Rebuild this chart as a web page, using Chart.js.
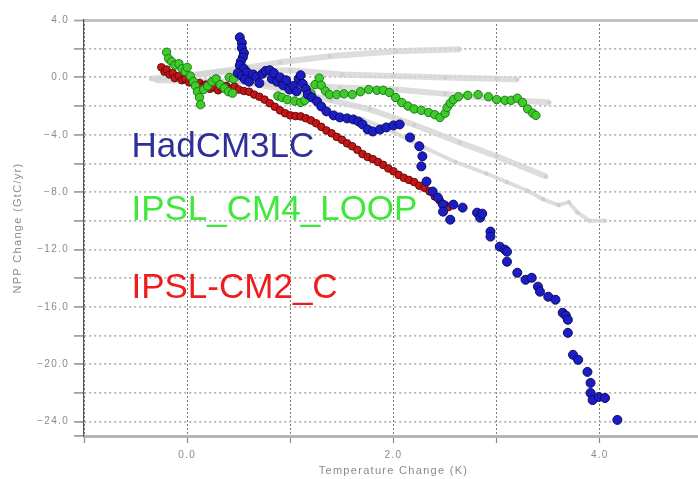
<!DOCTYPE html>
<html>
<head>
<meta charset="utf-8">
<script src="https://cdn.jsdelivr.net/npm/chart.js@4.4.1/dist/chart.umd.min.js"></script>
<style>
  html, body { margin: 0; padding: 0; background: #fff; overflow: hidden; }
  #wrap { width: 710px; height: 479px; }
</style>
</head>
<body>
<div id="wrap"><canvas id="myChart" width="710" height="479"></canvas></div>
<script>
// data: [temperature change (K), NPP change (GtC/yr)]
const hadcm3lc = [
  [0.51,2.79],[0.53,2.4],[0.53,2.05],[0.55,1.7],[0.54,1.4],[0.52,1.1],[0.51,0.84],[0.55,0.6],[0.49,0.3],
  [0.53,0.1],[0.58,0.35],[0.56,-0.14],[0.6,-0.3],[0.64,0.2],[0.67,0.05],[0.7,-0.4],[0.73,0.25],[0.76,0.45],
  [0.8,0.5],[0.82,-0.1],[0.84,0.3],[0.87,-0.3],[0.9,0.0],[0.93,-0.55],[0.96,-0.2],[0.99,-0.85],[1.03,-0.6],
  [1.06,-0.98],[1.08,-0.1],[1.1,0.15],[1.12,-0.45],[1.15,-0.8],[1.17,-1.2],[1.21,-1.4],[1.26,-1.68],[1.3,-2.03],
  [1.35,-2.37],[1.42,-2.65],[1.48,-2.79],[1.55,-2.86],[1.61,-2.93],[1.66,-3.07],[1.7,-3.28],[1.75,-3.63],
  [1.8,-3.77],[1.87,-3.63],[1.93,-3.49],[2.0,-3.35],[2.06,-3.28],[2.16,-4.19],[2.25,-4.8],[2.28,-5.5],[2.27,-6.2],
  [2.32,-7.26],[2.38,-7.96],[2.43,-8.38],[2.48,-8.87],[2.48,-9.36],[2.55,-9.92],[2.58,-8.87],[2.67,-9.08],
  [2.81,-9.43],[2.84,-9.78],[2.86,-9.5],[2.94,-10.75],[2.94,-11.1],[3.03,-11.8],[3.08,-12.01],[3.1,-12.15],
  [3.1,-12.85],[3.2,-13.62],[3.28,-14.11],[3.34,-13.97],[3.4,-14.59],[3.42,-14.94],[3.5,-15.29],[3.57,-15.5],
  [3.64,-16.41],[3.67,-16.6],[3.69,-16.9],[3.69,-17.81],[3.74,-19.34],[3.79,-19.69],[3.88,-20.53],[3.91,-21.3],
  [3.91,-22.0],[3.93,-22.49],[3.99,-22.28],[4.05,-22.35],[4.17,-23.88]
];
const ipslCm4Loop = [
  [-0.2,1.75],[-0.18,1.3],[-0.15,1.1],[-0.12,0.85],[-0.08,0.95],[-0.05,0.6],[-0.02,0.4],[0.0,0.7],[0.03,0.1],
  [0.06,-0.3],[0.08,-0.6],[0.1,-1.0],[0.12,-1.4],[0.13,-1.9],[0.16,-0.85],[0.2,-0.6],[0.24,-0.3],[0.28,-0.1],
  [0.32,-0.5],[0.36,-0.75],[0.4,-1.0],[0.44,-1.1],[0.41,0.0],[0.45,-0.1],[0.88,-1.3],[0.92,-1.4],[0.97,-1.55],
  [1.04,-1.65],[1.1,-1.75],[1.14,-1.6],[1.2,-1.1],[1.24,-0.5],[1.28,-0.05],[1.3,-0.55],[1.34,-0.95],[1.38,-1.2],
  [1.45,-1.2],[1.52,-1.15],[1.6,-1.2],[1.68,-1.0],[1.76,-0.85],[1.84,-0.9],[1.9,-0.9],[1.96,-1.05],[2.02,-1.4],
  [2.08,-1.75],[2.14,-2.0],[2.2,-2.2],[2.27,-2.3],[2.34,-2.45],[2.4,-2.6],[2.45,-2.8],[2.5,-2.5],[2.52,-2.1],
  [2.55,-1.8],[2.58,-1.55],[2.63,-1.35],[2.72,-1.25],[2.82,-1.2],[2.92,-1.35],[3.0,-1.55],[3.08,-1.6],
  [3.14,-1.6],[3.2,-1.45],[3.25,-1.75],[3.3,-2.2],[3.35,-2.5],[3.38,-2.65]
];
const ipslCm2C = [
  [-0.25,0.7],[-0.22,0.4],[-0.2,0.55],[-0.17,0.2],[-0.14,0.3],[-0.12,-0.05],[-0.08,0.1],[-0.05,-0.2],
  [-0.02,-0.1],[0.02,-0.35],[0.05,-0.25],[0.08,-0.5],[0.12,-0.4],[0.15,-0.65],[0.18,-0.5],[0.22,-0.8],
  [0.26,-0.7],[0.3,-0.9],[0.34,-0.75],[0.38,-0.6],[0.42,-0.8],[0.46,-0.65],[0.5,-0.85],[0.55,-0.95],[0.6,-1.0],
  [0.65,-1.2],[0.7,-1.35],[0.75,-1.55],[0.8,-1.8],[0.85,-2.05],[0.9,-2.3],[0.95,-2.5],[1.0,-2.65],[1.05,-2.7],
  [1.1,-2.72],[1.15,-2.85],[1.2,-3.0],[1.25,-3.2],[1.3,-3.45],[1.35,-3.7],[1.4,-3.9],[1.45,-4.15],[1.5,-4.35],
  [1.55,-4.6],[1.6,-4.8],[1.65,-5.05],[1.7,-5.35],[1.75,-5.55],[1.8,-5.7],[1.85,-5.9],[1.9,-6.1],[1.95,-6.35],
  [2.0,-6.55],[2.05,-6.8],[2.1,-7.0],[2.15,-7.15],[2.2,-7.3],[2.25,-7.55],[2.3,-7.7],[2.35,-7.95],[2.4,-8.3],
  [2.45,-8.6],[2.5,-8.9],[2.53,-9.05]
];
// other models (grey)
const greyA = [[-0.35,-0.1],[0.1,0.2],[0.6,0.7],[0.9,1.05],[1.38,1.47],[2.03,1.82],[2.64,1.96]];
const greyB = [[-0.25,0.0],[0.4,0.4],[1.0,0.5],[1.5,0.2],[2.0,0.1],[2.5,0.0],[3.0,-0.1],[3.2,-0.15]];
const greyC = [[-0.3,-0.2],[0.5,-0.3],[1.48,-0.7],[2.03,-0.84],[2.5,-1.15],[3.0,-1.5],[3.51,-1.75]];
const greyD = [[0.6,-0.4],[1.0,-0.9],[1.4,-1.6],[1.77,-2.23],[2.2,-3.3],[2.64,-4.54],[3.0,-5.5],[3.48,-6.91]];
const greyE = [[1.7,-2.9],[2.0,-3.8],[2.3,-4.9],[2.6,-5.9],[2.9,-6.7],[3.1,-7.3],[3.3,-7.9],[3.45,-8.5],
  [3.6,-8.9],[3.7,-8.7],[3.78,-9.4],[3.9,-10.0],[4.05,-10.0]];

const labelNames = ['HadCM3LC', 'IPSL_CM4_LOOP', 'IPSL-CM2_C'];

const toPts = arr => arr.map(p => ({x: p[0], y: p[1]}));

function greySet(arr, lw) {
    return {
        data: toPts(arr),
        showLine: true,
        borderColor: 'rgba(212,212,212,0.8)',
        borderWidth: lw,
        pointRadius: 2.2,
        pointBackgroundColor: '#d0d0d0',
        pointBorderWidth: 0,
        order: 10
    };
}

// big coloured model names, placed through the scales
const modelLabels = {
    id: 'modelLabels',
    beforeDraw(chart) {
        chart.ctx.letterSpacing = '1.3px';
    },
    afterDatasetsDraw(chart) {
        const {ctx, scales: {x, y}} = chart;
        const cols = ['#2e2f98', '#3fe83a', '#ee1c1c'];
        const base = [-5.52, -9.92, -15.36];
        ctx.save();
        ctx.letterSpacing = '0px';
        ctx.font = '35px "Liberation Sans", Arial, sans-serif';
        ctx.textBaseline = 'alphabetic';
        ctx.textAlign = 'left';
        labelNames.forEach((t, i) => {
            ctx.fillStyle = cols[i];
            ctx.fillText(t, x.getPixelForValue(-0.54), y.getPixelForValue(base[i]));
        });
        ctx.restore();
    }
};

const ctx = document.getElementById('myChart').getContext('2d');
const myChart = new Chart(ctx, {
    type: 'scatter',
    data: {
        datasets: [{
            label: 'HadCM3LC',
            data: toPts(hadcm3lc),
            pointRadius: 4.5,
            pointBackgroundColor: '#1d1dc8',
            pointBorderColor: '#0c0c5a',
            pointBorderWidth: 1,
            order: 1
        }, {
            label: 'IPSL_CM4_LOOP',
            data: toPts(ipslCm4Loop),
            pointRadius: 4.2,
            pointBackgroundColor: '#3fcc2a',
            pointBorderColor: '#1b7a18',
            pointBorderWidth: 1,
            order: 2
        }, {
            label: 'IPSL-CM2_C',
            data: toPts(ipslCm2C),
            pointRadius: 3.8,
            pointBackgroundColor: '#c81414',
            pointBorderColor: '#5e0c0c',
            pointBorderWidth: 1,
            order: 3
        },
        greySet(greyA, 6), greySet(greyB, 6), greySet(greyC, 6), greySet(greyD, 6), greySet(greyE, 4)
        ]
    },
    options: {
        responsive: false,
        animation: false,
        events: [],
        layout: { padding: { top: 20, right: 7, bottom: 0, left: 0 } },
        plugins: {
            legend: { display: false },
            tooltip: { enabled: false }
        },
        scales: {
            x: {
                type: 'linear',
                min: -1, max: 5,
                afterFit: s => { s.height = 43; },
                ticks: {
                    stepSize: 1,
                    padding: 6,
                    color: '#8a8a8a',
                    font: { family: '"Liberation Sans", Arial, sans-serif', size: 10 },
                    maxRotation: 0,
                    autoSkip: false,
                    callback: v => (v % 2 === 0 ? v.toFixed(1) : '')
                },
                grid: {
                    color: '#7a7a7a',
                    lineWidth: 1,
                    tickLength: 7,
                    tickColor: '#8a8a8a',
                    tickWidth: 1.2
                },
                border: { color: '#b5b5b5', width: 3, dash: [2, 2] },
                title: {
                    display: true,
                    text: 'Temperature Change (K)',
                    color: '#8a8a8a',
                    font: { family: '"Liberation Sans", Arial, sans-serif', size: 11 },
                    padding: { top: 0, bottom: 1 }
                }
            },
            y: {
                min: -25, max: 4,
                afterFit: s => { s.width = 84; },
                ticks: {
                    stepSize: 2,
                    padding: 5,
                    color: '#8a8a8a',
                    font: { family: '"Liberation Sans", Arial, sans-serif', size: 10 },
                    autoSkip: false,
                    callback: v => (v % 4 === 0 ? (v < 0 ? '\u2212' + Math.abs(v).toFixed(1) : v.toFixed(1)) : '')
                },
                grid: {
                    color: c => (c.tick && c.tick.value === 4 ? '#c2c2c2' : '#b4b4b4'),
                    lineWidth: c => (c.tick && c.tick.value === 4 ? 3 : 1.8),
                    tickLength: 10,
                    tickColor: '#a0a0a0',
                    tickWidth: 1.8
                },
                border: {
                    color: '#555',
                    width: 1.2,
                    dash: c => (c.tick && c.tick.value === 4 ? [] : [2, 3])
                },
                title: {
                    display: true,
                    text: 'NPP Change (GtC/yr)',
                    color: '#8a8a8a',
                    font: { family: '"Liberation Sans", Arial, sans-serif', size: 11 },
                    padding: { top: 11, bottom: 0 }
                }
            }
        }
    },
    plugins: [modelLabels]
});
</script>
</body>
</html>
